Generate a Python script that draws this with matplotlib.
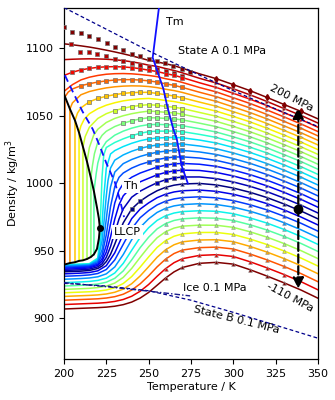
import numpy as np
import matplotlib
matplotlib.use("Agg")
import matplotlib.pyplot as plt

# ---------------- data ----------------
T_GRID = [200, 205, 210, 215, 220, 225, 230, 235, 240, 245, 250, 255, 260, 265, 270,
          280, 290, 300, 310, 320, 330, 340, 350]
T_HIGH = [225, 230, 235, 240, 245, 250, 255, 260, 265, 270, 280, 290, 300, 310, 320, 330, 340, 350]

rho_p200 = [1103.2, 1102.5, 1101.7, 1100.8, 1099.7, 1098.5, 1097.2, 1095.8, 1094.3, 1092.7, 1091.0, 1089.8, 1088.5, 1087.0, 1085.1,
            1081.0, 1077.4, 1073.0, 1068.5, 1063.5, 1058.3, 1053.2, 1047.7]
rho_p190 = [1091.5, 1091.8, 1092.0, 1092.1, 1092.0, 1091.8, 1091.4, 1090.8, 1089.9, 1088.8, 1087.4, 1086.5, 1084.9, 1083.5, 1081.7,
            1077.7, 1074.2, 1069.9, 1065.4, 1060.5, 1055.3, 1050.2, 1044.6]
rho_p180 = [1079.8, 1082.2, 1083.9, 1085.0, 1085.8, 1086.2, 1086.3, 1086.1, 1085.6, 1084.8, 1083.7, 1082.7, 1081.2, 1079.9, 1078.2,
            1074.4, 1070.9, 1066.6, 1062.2, 1057.4, 1052.2, 1047.1, 1041.5]
rho_p170 = [1068.0, 1073.0, 1076.5, 1078.5, 1079.8, 1080.7, 1081.1, 1081.2, 1081.0, 1080.5, 1079.8, 1078.9, 1077.4, 1076.2, 1074.6,
            1070.9, 1067.6, 1063.3, 1059.0, 1054.2, 1049.1, 1043.9, 1038.3]

t_p160 = [200.6, 200.6, 202.5, 205, 210, 215, 220] + T_HIGH
rho_p160 = [940.0, 1064.0, 1067.5, 1069.8, 1072.2, 1073.7, 1074.9, 1075.8, 1076.4, 1076.7, 1076.7, 1076.4, 1075.8, 1074.9, 1073.6,
            1072.5, 1070.9, 1067.4, 1064.1, 1060.0, 1055.7, 1050.9, 1045.8, 1040.7, 1035.1]
t_p150 = [203.5, 203.5, 205, 210, 215, 220] + T_HIGH
rho_p150 = [941.0, 1055.0, 1059.5, 1065.5, 1067.9, 1069.4, 1070.6, 1071.4, 1071.9, 1072.1, 1072.0, 1071.6, 1070.8, 1069.6, 1068.6,
            1067.2, 1063.8, 1060.6, 1056.5, 1052.3, 1047.6, 1042.5, 1037.4, 1031.8]
t_p140 = [206.5, 206.5, 208, 210, 215, 220] + T_HIGH
rho_p140 = [941.6, 1046.5, 1052.0, 1055.8, 1060.3, 1062.8, 1064.4, 1065.6, 1066.5, 1067.1, 1067.3, 1067.3, 1066.5, 1065.5, 1064.6,
            1063.3, 1060.1, 1057.0, 1053.0, 1048.9, 1044.2, 1039.1, 1034.0, 1028.4]
t_p130 = [208.9, 208.9, 210, 212, 215, 220] + T_HIGH
rho_p130 = [942.6, 1037.5, 1042.5, 1047.5, 1051.5, 1055.2, 1057.8, 1059.6, 1061.0, 1061.9, 1062.5, 1062.8, 1062.2, 1061.25, 1060.5,
            1059.3, 1056.3, 1053.35, 1049.5, 1045.4, 1040.7, 1035.7, 1030.5, 1024.9]
t_p120 = [211.2, 211.2, 212.5, 215, 220] + T_HIGH
rho_p120 = [943.0, 1027.0, 1034.5, 1041.5, 1048.0, 1051.5, 1053.8, 1055.5, 1056.8, 1057.6, 1058.2, 1057.7, 1056.9, 1056.3,
            1055.3, 1052.45, 1049.6, 1045.8, 1041.8, 1037.2, 1032.2, 1027.0, 1021.4]
t_p110 = [213.6, 213.6, 215, 217.5, 220] + T_HIGH
rho_p110 = [944.0, 1016.0, 1026.5, 1035.5, 1040.0, 1045.0, 1048.0, 1050.0, 1051.5, 1052.6, 1053.4, 1053.1, 1052.5, 1052.1,
            1051.1, 1048.5, 1045.8, 1042.1, 1038.1, 1033.6, 1028.6, 1023.4, 1017.8]
t_p100 = [215.9, 215.9, 216.8, 218, 220, 222.5] + T_HIGH
rho_p100 = [945.5, 1004.0, 1013.0, 1022.0, 1030.5, 1035.5, 1038.5, 1042.0, 1044.4, 1046.3, 1047.6, 1048.5, 1048.4, 1048.0, 1047.7,
            1046.9, 1044.5, 1041.9, 1038.3, 1034.4, 1029.9, 1025.0, 1019.8, 1014.1]
t_p90 = [217.7, 217.7, 218.3, 219, 220, 222.5] + T_HIGH
rho_p90 = [947.0, 994.0, 1000.0, 1007.0, 1015.0, 1026.0, 1030.8, 1035.6, 1038.6, 1040.8, 1042.4, 1043.4, 1043.56, 1043.4, 1043.2,
           1042.6, 1040.4, 1037.9, 1034.4, 1030.6, 1026.2, 1021.2, 1016.1, 1010.4]
t_p80 = [200, 205, 210, 215, 220, 221, 221.8, 222.5, 223.5] + T_HIGH
rho_p80 = [939.8, 940.05, 940.3, 940.55, 944.7, 958.2, 982.7, 1005.0, 1021.1, 1026.5, 1030.2, 1032.9, 1035.2, 1037.0, 1038.2,
           1038.6, 1038.6, 1038.66, 1038.2, 1036.2, 1033.9, 1030.5, 1026.7, 1022.4, 1017.5, 1012.3, 1006.6]
t_p70 = [200, 205, 210, 215, 220, 221.5, 222.5, 223.5, 225, 227.5] + T_HIGH[1:]
rho_p70 = [939.4, 939.65, 939.9, 940.15, 944.0, 954.6, 970.0, 989.8, 1011.2, 1021.7, 1024.2, 1027.2, 1029.6, 1031.5, 1032.8,
           1033.5, 1033.8, 1034.0, 1033.65, 1032.0, 1029.8, 1026.5, 1022.8, 1018.5, 1013.6, 1008.4, 1002.7]
t_p60 = [200, 205, 210, 215, 220, 222.5, 223.5, 225, 226, 227.5] + T_HIGH[1:]
rho_p60 = [939.0, 939.25, 939.5, 939.8, 943.1, 957.4, 969.7, 990.8, 1002.0, 1011.3, 1017.1, 1021.0, 1023.7, 1025.8, 1027.3,
           1028.3, 1028.9, 1029.24, 1029.04, 1027.6, 1025.57, 1022.43, 1018.8, 1014.55, 1009.68, 1004.49, 998.76]
t_p50 = [200, 205, 210, 215, 220, 222.5, 223.5, 225, 226, 227.5] + T_HIGH[1:]
rho_p50 = [938.5, 938.75, 939.0, 939.35, 942.2, 951.0, 958.4, 973.6, 984.3, 997.3, 1008.3, 1014.55, 1017.6, 1019.9, 1021.63,
           1022.98, 1023.8, 1024.38, 1024.35, 1023.2, 1021.3, 1018.29, 1014.73, 1010.53, 1005.69, 1000.5, 994.75]
t_p40 = [200, 205, 210, 215, 220, 222.5, 225, 227.5, 230, 232.5] + T_HIGH[2:]
rho_p40 = [937.9, 938.15, 938.4, 938.8, 941.2, 947.1, 961.9, 982.8, 997.5, 1004.4, 1007.6, 1011.25, 1013.9, 1015.8, 1017.52,
           1018.7, 1019.42, 1019.56, 1018.7, 1016.95, 1014.07, 1010.58, 1006.45, 1001.63, 996.43, 990.7]
t_p30 = [200, 205, 210, 215, 220, 222.5, 225, 227.5, 230, 232.5] + T_HIGH[2:]
rho_p30 = [937.2, 937.45, 937.7, 938.15, 940.2, 944.3, 954.1, 970.1, 985.4, 994.8, 999.7, 1004.5, 1007.58, 1009.83, 1011.95,
           1013.4, 1014.36, 1014.69, 1014.1, 1012.53, 1009.79, 1006.37, 1002.29, 997.5, 992.3, 986.5]
t_p20 = [200, 205, 210, 215, 220, 222.5, 225, 227.5, 230, 232.5] + T_HIGH[2:]
rho_p20 = [936.4, 936.65, 936.9, 937.4, 939.3, 942.4, 949.1, 960.3, 973.5, 984.1, 990.7, 997.4, 1001.1, 1003.7, 1006.26,
           1008.0, 1009.2, 1009.72, 1009.5, 1008.03, 1005.43, 1002.08, 998.06, 993.3, 988.1, 982.3]
t_p10 = [200, 205, 210, 215, 220, 222.5, 225, 227.5, 230, 232.5] + T_HIGH[2:]
rho_p10 = [935.5, 935.75, 936.0, 936.5, 938.2, 940.5, 945.25, 953.2, 963.5, 973.5, 981.1, 989.7, 994.2, 997.43, 1000.44,
           1002.6, 1003.95, 1004.65, 1004.7, 1003.45, 1001.0, 997.73, 993.77, 989.04, 983.84, 978.05]
t_p0 = [200, 205, 210, 215, 220, 222.5, 225, 227.5, 230, 232.5] + T_HIGH[2:]
rho_p0 = [934.5, 934.75, 935.0, 935.5, 937.0, 938.8, 942.1, 947.5, 955.0, 963.2, 970.7, 981.0, 986.8, 991.0, 994.5,
          997.0, 998.6, 999.5, 999.9, 998.8, 996.5, 993.3, 989.4, 984.7, 979.5, 973.7]

rho_m10 = [933.0, 933.26, 933.55, 934.0, 935.25, 939.06, 948.55, 962.45, 973.86, 980.94, 985.5, 989.35, 991.95, 993.6, 994.5,
           995.0, 994.06, 991.9, 988.77, 984.92, 980.25, 975.04, 969.2]
rho_m20 = [931.2, 931.45, 931.75, 932.2, 933.26, 936.2, 943.3, 954.85, 966.4, 974.55, 979.8, 984.0, 986.77, 988.46, 989.4,
           990.0, 989.23, 987.2, 984.11, 980.28, 975.62, 970.42, 964.6]
rho_m30 = [929.0, 929.25, 929.53, 929.95, 930.82, 933.0, 938.1, 947.27, 958.27, 967.4, 973.7, 978.45, 981.47, 983.27, 984.25,
           984.9, 984.3, 982.4, 979.31, 975.48, 970.83, 965.62, 959.8]
rho_m40 = [926.5, 926.75, 927.02, 927.4, 928.14, 929.83, 933.63, 940.73, 950.47, 959.92, 967.11, 972.56, 975.99, 978.0, 979.09,
           979.7, 979.3, 977.5, 974.37, 970.52, 965.86, 960.64, 954.8]
rho_m50 = [924.0, 924.25, 924.5, 924.85, 925.48, 926.82, 929.7, 935.16, 943.33, 952.39, 960.12, 966.25, 970.2, 972.5, 973.73,
           974.45, 974.17, 972.5, 969.3, 965.4, 960.73, 955.5, 949.6]
rho_m60 = [921.5, 921.75, 922.0, 922.3, 922.85, 923.93, 926.16, 930.37, 937.02, 945.2, 953.03, 959.69, 964.17, 966.85, 968.3,
           969.05, 968.96, 967.4, 964.09, 960.12, 955.42, 950.18, 944.3]
rho_m70 = [919.0, 919.25, 919.5, 919.75, 920.22, 921.06, 922.72, 925.85, 931.0, 937.99, 945.51, 952.55, 957.63, 960.81, 962.59,
           963.6, 963.66, 962.15, 958.75, 954.68, 949.95, 944.7, 938.8]
rho_m80 = [916.3, 916.55, 916.8, 917.05, 917.42, 918.1, 919.38, 921.73, 925.71, 931.45, 938.28, 945.29, 950.83, 954.52, 956.7,
           958.04, 958.26, 956.8, 953.27, 949.08, 944.3, 939.04, 933.1]
rho_m90 = [913.5, 913.75, 914.0, 914.25, 914.54, 915.11, 916.12, 917.93, 921.0, 925.62, 931.53, 938.17, 943.89, 948.02, 950.61,
           952.4, 952.77, 951.4, 947.65, 943.32, 938.49, 933.2, 927.2]
rho_m100 = [910.3, 910.55, 910.8, 911.05, 911.3, 911.77, 912.6, 914.03, 916.43, 920.13, 925.13, 931.18, 936.84, 941.26, 944.24,
            946.65, 947.18, 945.85, 941.9, 937.4, 932.5, 927.2, 921.2]
rho_m110 = [907.0, 907.25, 907.5, 907.75, 908.0, 908.37, 909.05, 910.21, 912.12, 915.09, 919.24, 924.56, 929.92, 934.45, 937.74,
            940.8, 941.5, 940.2, 936.01, 931.32, 926.35, 921.03, 915.0]

# measured points at 200 and 190 MPa (squares above the model lines)
sq200_T = [200, 204.5, 209.8, 214.9, 219.9, 225.2, 230, 235, 240, 245, 250, 254.7, 259.6, 264.6, 269.5, 274.4]
sq200_rho = [1115.8, 1112.3, 1110.9, 1108.7, 1106.7, 1103.5, 1101.2, 1098.6, 1096.0, 1094.0, 1092.2, 1090.6, 1088.7, 1086.9,
             1084.7, 1082.5]
sq190_T = [204, 209.5, 214.5, 219.5, 225, 230, 235, 240, 245, 250, 255, 260, 265, 270]
sq190_rho = [1103.0, 1097.3, 1096.8, 1095.6, 1094.0, 1092.2, 1090.5, 1088.8, 1087.3, 1086.0, 1084.6, 1083.0, 1081.3, 1079.5]
# first temperature of measured squares on other isobars (homogeneous nucleation limit)
sq_start = {180: 205, 160: 210, 140: 215, 120: 230, 100: 235, 80: 240, 60: 245, 40: 250, 20: 255, 0.1: 240,
            110: 250, 90: 250, 70: 250, 50: 250, 30: 255, 10: 255}
sq_stop = {0.1: 245}

# liquid-liquid coexistence (binodal)
binodal_T = [199.8, 200.6, 203.5, 206.5, 208.9, 211.2, 213.6, 215.9, 217.7, 219.5, 220.6, 221.2,
             220.6, 219.5, 217.7, 215.9, 213.6, 211.2, 208.9, 206.5, 203.5, 200.6, 199.8]
binodal_rho = [1067.0, 1064.0, 1055.0, 1046.5, 1037.5, 1027.0, 1016.0, 1004.0, 994.0, 982.0, 974.0, 967.0,
               959.0, 951.5, 947.5, 945.5, 944.0, 943.0, 942.6, 941.6, 941.0, 940.0, 939.8]
llcp_T, llcp_rho = [221.2], [967.0]

th_T = [200.5, 205.5, 211, 217, 221, 225, 230, 233, 235.5]
th_rho = [1080, 1067, 1053, 1040, 1028, 1015, 1001, 988, 975]
tm_T = [256.6, 252.4, 258.7, 261.0, 264.6, 266.6, 269.5, 273.2]
tm_rho = [1135, 1093, 1070, 1057, 1040, 1033, 1013, 999.8]
stateA_T = [200, 250, 275, 300, 325, 350]
stateA_rho = [1130, 1098, 1083, 1068.5, 1055, 1042]
stateB_T = [200, 225, 250, 275, 300, 325, 350]
stateB_rho = [926.0, 924.0, 920.5, 913.5, 904.5, 895.0, 885.4]
ice_T = [200, 225, 250, 274.5]
ice_rho = [926.5, 923.5, 920.2, 916.7]

arrow_T = 338.4
arrow_rho = [922.0, 1056.0]
dot_rho = [981.0]

# ---------------- build isobar table ----------------
isobars = [
    (200, T_GRID, rho_p200), (190, T_GRID, rho_p190), (180, T_GRID, rho_p180), (170, T_GRID, rho_p170),
    (160, t_p160, rho_p160), (150, t_p150, rho_p150), (140, t_p140, rho_p140), (130, t_p130, rho_p130),
    (120, t_p120, rho_p120), (110, t_p110, rho_p110), (100, t_p100, rho_p100), (90, t_p90, rho_p90),
    (80, t_p80, rho_p80), (70, t_p70, rho_p70), (60, t_p60, rho_p60), (50, t_p50, rho_p50),
    (40, t_p40, rho_p40), (30, t_p30, rho_p30), (20, t_p20, rho_p20), (10, t_p10, rho_p10),
    (0.1, t_p0, rho_p0),
    (-10, T_GRID, rho_m10), (-20, T_GRID, rho_m20), (-30, T_GRID, rho_m30), (-40, T_GRID, rho_m40),
    (-50, T_GRID, rho_m50), (-60, T_GRID, rho_m60), (-70, T_GRID, rho_m70), (-80, T_GRID, rho_m80),
    (-90, T_GRID, rho_m90), (-100, T_GRID, rho_m100), (-110, T_GRID, rho_m110),
]

cmap = plt.cm.jet


def pcolor(p):
    if p >= 0:
        return cmap(p / 200.0)
    return cmap(-p / 110.0)


plt.rcParams['font.family'] = ['DejaVu Sans']
fig = plt.figure(figsize=(3.35, 4.0), dpi=100)
ax = fig.add_axes([0.191, 0.1025, 0.758, 0.8785])

for p, t, r in isobars:
    ax.plot(t, r, color=pcolor(p), lw=1.1, zorder=2)

SQ = dict(ls='none', marker='s', ms=3.1, mec='0.45', mew=0.5, zorder=3)
ax.plot(sq200_T, sq200_rho, mfc=pcolor(200), **SQ)
ax.plot(sq190_T, sq190_rho, mfc=pcolor(190), **SQ)

for p, t, r in isobars:
    t = np.asarray(t, float)
    r = np.asarray(r, float)
    c = pcolor(p)
    if p in sq_start:
        on5 = np.isclose(np.mod(t, 5), 0)
        m = on5 & (t >= sq_start[p]) & (t <= sq_stop.get(p, 270))
        ax.plot(t[m], r[m], mfc=c, **SQ)
    hm = (t >= 290) & (t <= 340) & np.isclose(np.mod(t, 10), 0)
    if p == 200:
        ax.plot(t[hm], r[hm], ls='none', marker='d', ms=3.0, mfc=c, mec=c, zorder=3)
    elif p >= 10:
        ax.plot(t[hm], r[hm], ls='none', marker='>', ms=2.5, mfc=c, mec='0.55', mew=0.4, zorder=3)
    else:
        lm = (t >= 260) & (t <= 330) & np.isclose(np.mod(t, 10), 0)
        ax.plot(t[lm], r[lm], ls='none', marker='^', ms=2.7, mfc=c, mec='0.55', mew=0.4, zorder=3)

ax.plot(binodal_T, binodal_rho, color='black', lw=1.4, zorder=4)
ax.plot(llcp_T, llcp_rho, 'o', color='black', ms=4, zorder=5)
ax.plot(th_T, th_rho, color='#1010ff', lw=1.3, dashes=(4, 2.5), zorder=4)
ax.plot(tm_T, tm_rho, color='#1010ff', lw=1.3, zorder=4)
ax.plot(stateA_T, stateA_rho, color='#00008b', lw=0.9, dashes=(3, 2), zorder=4)
ax.plot(stateB_T, stateB_rho, color='#00008b', lw=0.9, dashes=(3, 2), zorder=4)
ax.plot(ice_T, ice_rho, color='#1a1a8c', lw=1.0, dashes=(4, 1.5, 1, 1.5), zorder=4)

ax.annotate('', xy=(arrow_T, arrow_rho[1]), xytext=(arrow_T, arrow_rho[0]),
            arrowprops=dict(arrowstyle='<|-|>', color='black', lw=1.6, ls='--', mutation_scale=16,
                            shrinkA=0, shrinkB=0), zorder=6)
ax.plot([arrow_T], dot_rho, 'o', color='black', ms=6, zorder=7)

fs = 8
ax.text(265.6, 1119, 'Tm', fontsize=fs, ha='center', va='center')
ax.text(293.3, 1097.8, 'State A 0.1 MPa', fontsize=fs, ha='center', va='center')
ax.text(334.5, 1063, '200 MPa', fontsize=fs, ha='center', va='center', rotation=-27)
ax.text(333.5, 915.8, '-110 MPa', fontsize=fs, ha='center', va='center', rotation=-28)
ax.text(301.6, 898.7, 'State B 0.1 MPa', fontsize=fs, ha='center', va='center', rotation=-14)
ax.text(289.2, 922.4, 'Ice 0.1 MPa', fontsize=fs, ha='center', va='center')
ax.text(239.5, 997.9, 'Th', fontsize=fs, ha='center', va='center', zorder=8,
        bbox=dict(facecolor='white', edgecolor='none', pad=1.5))
ax.text(237.5, 963.9, 'LLCP', fontsize=fs, ha='center', va='center', zorder=8,
        bbox=dict(facecolor='white', edgecolor='none', pad=1.5))

ax.set_xlim(200, 350)
ax.set_ylim(870, 1130)
ax.set_xticks([200, 225, 250, 275, 300, 325, 350])
ax.set_yticks([900, 950, 1000, 1050, 1100])
ax.tick_params(labelsize=fs, length=3.5, width=0.8)
ax.set_xlabel('Temperature / K', fontsize=fs, labelpad=2)
ax.set_ylabel('Density / kg/m$^3$', fontsize=fs, labelpad=3)
for s in ax.spines.values():
    s.set_linewidth(0.9)

fig.savefig('out.png', dpi=100)
